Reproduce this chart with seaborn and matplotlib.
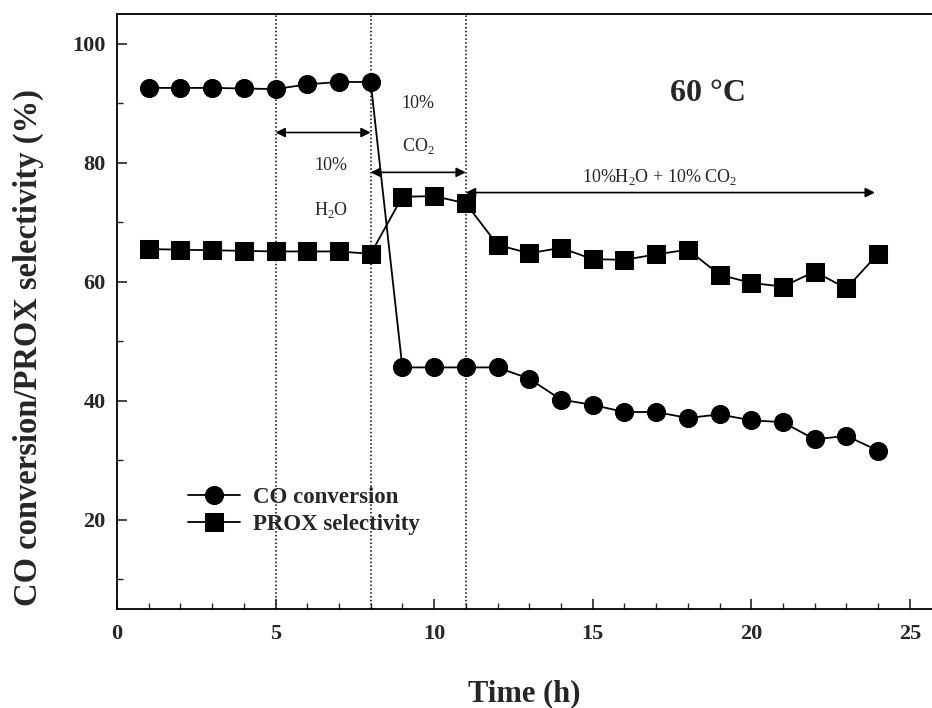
import matplotlib
matplotlib.use("Agg")
import matplotlib.pyplot as plt
import seaborn as sns
import pandas as pd

time_h = list(range(1, 25))
co_conversion = [92.6, 92.6, 92.6, 92.5, 92.4, 93.2, 93.6, 93.6,
                 45.6, 45.6, 45.6, 45.6, 43.7, 40.2, 39.3, 38.1,
                 38.1, 37.1, 37.7, 36.7, 36.4, 33.5, 34.1, 31.6]
prox_selectivity = [65.5, 65.4, 65.3, 65.2, 65.1, 65.1, 65.1, 64.7,
                    74.3, 74.4, 73.2, 66.2, 64.8, 65.7, 63.8, 63.7,
                    64.6, 65.4, 61.2, 59.8, 59.2, 61.7, 58.9, 64.7]
series_names = ["CO conversion", "PROX selectivity"]
switch_times = [5, 8, 11]

sns.set_theme(style="white")
plt.rcParams["font.family"] = ["Liberation Serif", "DejaVu Serif"]
plt.rcParams["mathtext.fontset"] = "custom"
plt.rcParams["mathtext.rm"] = "Liberation Serif"

df = pd.DataFrame({
    "t": time_h * 2,
    "val": co_conversion + prox_selectivity,
    "series": [series_names[0]] * len(time_h) + [series_names[1]] * len(time_h),
})

fig = plt.figure(figsize=(9.32, 7.08), dpi=100)
ax = fig.add_axes([0.1255, 0.140, 0.8745, 0.840])

sns.lineplot(data=df, x="t", y="val", hue="series", style="series",
             markers={"CO conversion": "o", "PROX selectivity": "s"},
             dashes=False, palette=["black", "black"], markersize=13,
             linewidth=1.3, markeredgecolor="black", ax=ax, legend=True)

for xv in switch_times:
    ax.axvline(xv, color="black", linestyle=(0, (1, 1.5)), linewidth=1.1, zorder=0)

ax.set_xlim(0, 25.7)
ax.set_ylim(5, 105)
ax.set_xticks([0, 5, 10, 15, 20, 25])
ax.set_xticks(range(0, 26), minor=True)
ax.set_yticks([20, 40, 60, 80, 100])
ax.set_yticks([10, 30, 50, 70, 90], minor=True)
ax.tick_params(axis="both", which="major", direction="in", length=7, width=1.2,
               labelsize=16)
ax.tick_params(axis="both", which="minor", direction="in", length=4, width=1.0)
ax.tick_params(axis="x", which="both", bottom=True, top=False)
ax.tick_params(axis="y", which="both", left=True, right=False)
ax.xaxis.set_tick_params(which="major", pad=11)
ax.yaxis.set_tick_params(which="major", pad=8)
for lbl in ax.get_xticklabels() + ax.get_yticklabels():
    lbl.set_fontweight("bold")

for s in ["left", "bottom", "top"]:
    ax.spines[s].set_color("black")
    ax.spines[s].set_linewidth(1.3)
ax.spines["right"].set_visible(False)

ax.set_xlabel("Time (h)", fontsize=22, fontweight="bold", labelpad=25)
ax.set_ylabel("CO conversion/PROX selectivity (%)", fontsize=23.5, fontweight="bold")
ax.yaxis.set_label_coords(-0.0896, 0.44)

arrow_kw = dict(arrowstyle="<|-|>", color="black", lw=1.2, mutation_scale=14, shrinkA=0, shrinkB=0)
ax.annotate("", xy=(5, 85.1), xytext=(8, 85.1), arrowprops=arrow_kw)
ax.annotate("", xy=(8, 78.4), xytext=(11, 78.4), arrowprops=arrow_kw)
ax.annotate("", xy=(11, 75.0), xytext=(23.9, 75.0), arrowprops=arrow_kw)

ax.text(6.75, 79.6, "10%", ha="center", va="center", fontsize=13)
ax.text(6.75, 72.0, r"H$_2$O", ha="center", va="center", fontsize=13)
ax.text(9.5, 90.0, "10%", ha="center", va="center", fontsize=13)
ax.text(9.5, 82.8, r"CO$_2$", ha="center", va="center", fontsize=13)
ax.text(17.1, 77.7, r"10%H$_2$O + 10% CO$_2$", ha="center", va="center", fontsize=13)
ax.text(18.65, 91.7, "60 °C", ha="center", va="center", fontsize=23, fontweight="bold")

handles, labels = ax.get_legend_handles_labels()
leg = ax.legend(handles=handles, labels=labels, loc="upper left",
                bbox_to_anchor=(0.062, 0.240), frameon=False,
                handlelength=2.27, handletextpad=0.55, labelspacing=0.25,
                prop={"weight": "bold", "size": 16.5})

fig.savefig("out.png", dpi=100)
